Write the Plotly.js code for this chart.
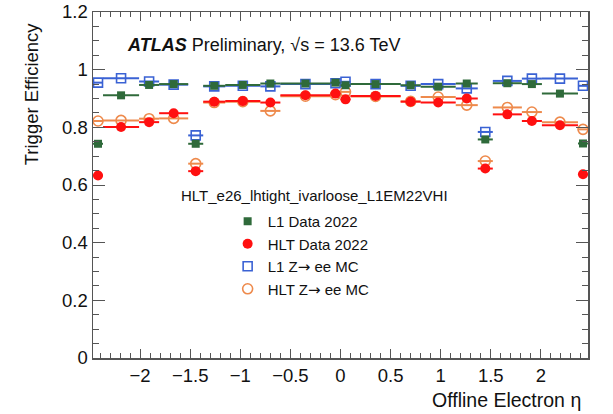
<!DOCTYPE html>
<html>
<head>
<meta charset="utf-8">
<script src="https://cdn.plot.ly/plotly-3.0.1.min.js"></script>
<style>html,body{margin:0;padding:0;background:#fff;}#plot{width:613px;height:414px;}</style>
</head>
<body>
<div id="plot"></div>
<script>
// Eta bin edges (Offline Electron eta)
var binEdges = [-2.47, -2.37, -2.01, -1.81, -1.52, -1.37, -1.15, -0.8, -0.6, -0.1, 0,
                0.1, 0.6, 0.8, 1.15, 1.37, 1.52, 1.81, 2.01, 2.37, 2.47];
// Efficiencies per bin
var l1Data  = [0.743, 0.911, 0.947, 0.950, 0.743, 0.944, 0.947, 0.952, 0.952, 0.955,
               0.946, 0.950, 0.946, 0.941, 0.952, 0.758, 0.953, 0.950, 0.917, 0.744];
var hltData = [0.633, 0.801, 0.818, 0.849, 0.648, 0.889, 0.891, 0.886, 0.911, 0.917,
               0.897, 0.909, 0.889, 0.886, 0.900, 0.657, 0.845, 0.822, 0.807, 0.637];
var l1MC    = [0.955, 0.970, 0.959, 0.948, 0.772, 0.942, 0.944, 0.942, 0.950, 0.953,
               0.958, 0.950, 0.944, 0.950, 0.935, 0.784, 0.961, 0.969, 0.969, 0.944];
var hltMC   = [0.822, 0.824, 0.830, 0.831, 0.674, 0.886, 0.889, 0.857, 0.908, 0.913,
               0.923, 0.907, 0.890, 0.905, 0.877, 0.683, 0.869, 0.853, 0.818, 0.793];
var arrow = '<span style="font-family:DejaVu Sans">\u2192</span>';
var seriesNames = ["L1 Data 2022", "HLT Data 2022", "L1 Z" + arrow + " ee MC", "HLT Z" + arrow + " ee MC"];
var yTickVals = [0, 0.2, 0.4, 0.6, 0.8, 1, 1.2];
var yTickText = ["0", "0.2", "0.4", "0.6", "0.8", "1", "1.2"];
var xTickVals = [-2, -1.5, -1, -0.5, 0, 0.5, 1, 1.5, 2];
var xTickText = ["\u22122", "\u22121.5", "\u22121", "\u22120.5", "0", "0.5", "1", "1.5", "2"];

var centers = [], halfW = [];
for (var i = 0; i < binEdges.length - 1; i++) {
  centers.push((binEdges[i] + binEdges[i + 1]) / 2);
  halfW.push((binEdges[i + 1] - binEdges[i]) / 2);
}

var cGreen = '#2f6a3a', cRed = '#ff1010', cBlue = '#3a62d4', cOrange = '#ee8a4c';

function mk(y, name, rank, color, symbol, size, lw) {
  return {
    x: centers, y: y, name: name, legendrank: rank, type: 'scatter', mode: 'markers',
    marker: {color: color, symbol: symbol, size: size, line: {color: color, width: lw}},
    error_x: {type: 'data', array: halfW, visible: true, color: color, thickness: 2, width: 0},
    cliponaxis: false
  };
}

var traces = [
  mk(l1MC, seriesNames[2], 3, cBlue, 'square-open', 9, 1.6),
  mk(hltMC, seriesNames[3], 4, cOrange, 'circle-open', 10, 1.6),
  mk(l1Data, seriesNames[0], 1, cGreen, 'square', 8, 0),
  mk(hltData, seriesNames[1], 2, cRed, 'circle', 10, 0)
];

var font = 'Liberation Sans, Arial, Helvetica, sans-serif';
var layout = {
  width: 613, height: 414,
  margin: {l: 93, r: 25, t: 12, b: 56},
  paper_bgcolor: '#fff', plot_bgcolor: '#fff',
  font: {family: font, color: '#111', size: 18},
  showlegend: true,
  legend: {
    x: 0.272, y: 0.442, xanchor: 'left', yanchor: 'top',
    traceorder: 'normal',
    font: {family: font, size: 15, color: '#111'},
    bgcolor: 'rgba(0,0,0,0)', itemwidth: 30, tracegroupgap: 0
  },
  xaxis: {
    range: [-2.47, 2.47], showgrid: false, zeroline: false,
    showline: true, linecolor: '#555', linewidth: 1.5, mirror: 'allticks',
    ticks: 'inside', ticklen: 9, tickcolor: '#555', tickwidth: 1,
    tickvals: xTickVals, ticktext: xTickText,
    tickfont: {family: font, size: 18.5, color: '#111'},
    minor: {dtick: 0.1, tick0: 0, ticks: 'inside', ticklen: 5, tickcolor: '#555', tickwidth: 1, showgrid: false}
  },
  yaxis: {
    range: [0, 1.2], showgrid: false, zeroline: false,
    showline: true, linecolor: '#555', linewidth: 1.5, mirror: 'allticks',
    ticks: 'inside', ticklen: 12, tickcolor: '#555', tickwidth: 1,
    tickvals: yTickVals, ticktext: yTickText,
    tickfont: {family: font, size: 18.5, color: '#111'},
    minor: {dtick: 0.05, tick0: 0, ticks: 'inside', ticklen: 6, tickcolor: '#555', tickwidth: 1, showgrid: false}
  },
  annotations: [
    {text: '<b><i>ATLAS</i></b> Preliminary, \u221As = 13.6 TeV', xref: 'paper', yref: 'paper',
     x: 0.064, y: 0.905, xanchor: 'left', yanchor: 'middle', showarrow: false,
     font: {family: font, size: 18, color: '#111'}},
    {text: 'HLT_e26_lhtight_ivarloose_L1EM22VHI', xref: 'paper', yref: 'paper',
     x: 0.448, y: 0.471, xanchor: 'center', yanchor: 'middle', showarrow: false,
     font: {family: font, size: 15, color: '#111'}},
    {text: 'Trigger Efficiency', xref: 'paper', yref: 'paper', textangle: -90,
     x: -0.125, y: 0.975, xanchor: 'center', yanchor: 'top', showarrow: false,
     font: {family: font, size: 18.5, color: '#111'}},
    {text: 'Offline Electron \u03b7', xref: 'paper', yref: 'paper',
     x: 0.99, y: -0.12, xanchor: 'right', yanchor: 'middle', showarrow: false,
     font: {family: font, size: 19.5, color: '#111'}}
  ]
};

Plotly.newPlot('plot', traces, layout, {displayModeBar: false, staticPlot: true});
</script>
</body>
</html>
